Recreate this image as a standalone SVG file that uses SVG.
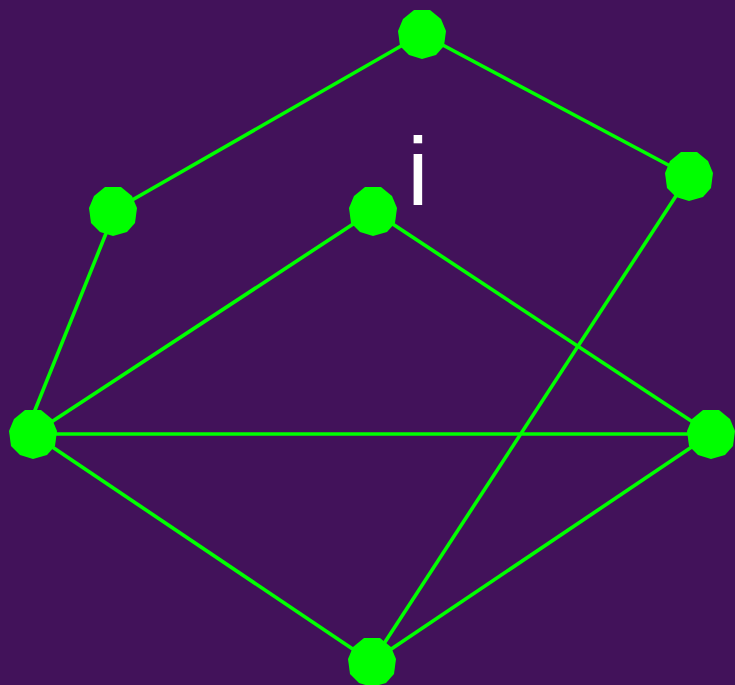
<svg xmlns="http://www.w3.org/2000/svg" xmlns:xlink="http://www.w3.org/1999/xlink" width="735" height="685" viewBox="0 0 735 685">
<style>
.edge{stroke:#00ff00;stroke-width:3.6;fill:none}
.node{fill:#00ff00}
.lbl{font-family:"Liberation Sans",Arial,sans-serif;font-size:96px;fill:#ffffff}
</style>
<defs>
<polygon id="n" points="-8,-24 8,-24 19,-15 24,-3 22,12 14,21 0,25 -13,21 -22,12 -24,-3 -19,-15"/>
</defs>
<rect width="735" height="685" fill="#42125a"/>
<g id="edges">
<line class="edge" x1="422" y1="34" x2="113" y2="211"/>
<line class="edge" x1="422" y1="34" x2="689" y2="176"/>
<line class="edge" x1="115" y1="211" x2="27" y2="430"/>
<line class="edge" x1="373" y1="211" x2="33" y2="434"/>
<line class="edge" x1="373" y1="211" x2="711" y2="434"/>
<line class="edge" x1="689" y1="176" x2="372" y2="662"/>
<line class="edge" x1="33" y1="434" x2="711" y2="434"/>
<line class="edge" x1="33" y1="434" x2="372" y2="662"/>
<line class="edge" x1="711" y1="434" x2="372" y2="662"/>
</g>
<g id="nA"><use xlink:href="#n" class="node" x="422" y="34"/></g>
<g id="nB"><use xlink:href="#n" class="node" x="689" y="176"/></g>
<g id="nC"><use xlink:href="#n" class="node" x="113" y="211"/></g>
<g id="nD"><use xlink:href="#n" class="node" x="373" y="211"/></g>
<g id="nE"><use xlink:href="#n" class="node" x="33" y="434"/></g>
<g id="nF"><use xlink:href="#n" class="node" x="711" y="434"/></g>
<g id="nG"><use xlink:href="#n" class="node" x="372" y="662"/></g>
<g id="label"><text class="lbl" x="418" y="205" text-anchor="middle">i</text></g>
</svg>
